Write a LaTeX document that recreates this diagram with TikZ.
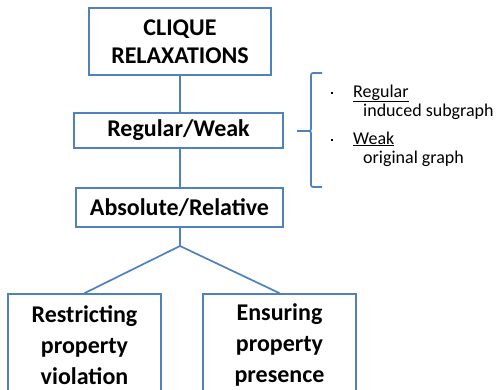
\documentclass[tikz,border=0pt]{standalone}
\usepackage{fontspec}
\setmainfont{Carlito}
\definecolor{lineblue}{RGB}{79,129,189}
\begin{document}
\begin{tikzpicture}[x=1pt,y=-1pt,
  box/.style={draw=lineblue,line width=1.7pt,fill=white,inner sep=0pt,align=center,font=\bfseries\fontsize{24}{28}\selectfont},
  conn/.style={draw=lineblue,line width=1.7pt},
  side/.style={anchor=base west,inner sep=0pt,font=\fontsize{18}{20}\selectfont},
  dot/.style={fill=black,inner sep=0pt,minimum size=2.2pt,rectangle}]
\useasboundingbox (0,0) rectangle (498,389);
\node[box,minimum width=182pt,minimum height=67pt] (top) at (180,41.5) {CLIQUE\\RELAXATIONS};
\node[box,minimum width=209pt,minimum height=35pt] (rw) at (178.5,130.5) {Regular/Weak};
\node[box,minimum width=207pt,minimum height=39pt] (ar) at (179.5,207.5) {Absolute/Relative};
\node[box,minimum width=153pt,minimum height=102pt,font=\bfseries\fontsize{24}{31}\selectfont] (rv) at (84.5,345) {Restricting\\property\\violation};
\node[box,minimum width=153pt,minimum height=102pt,font=\bfseries\fontsize{24}{31}\selectfont] (ep) at (279.5,345) {Ensuring\\property\\presence};
\coordinate (br) at (180,246);
\draw[conn] (top.south) -- (top.south |- rw.north);
\draw[conn] (top.south |- rw.south) -- (top.south |- ar.north);
\draw[conn,line join=round] (ar.south -| br) -- (br) -- (rv.north);
\draw[conn,line join=round] (br) -- (ep.north);
% brace
\coordinate (bt) at (322,73);
\coordinate (bb) at (322,187);
\coordinate (bm) at (297,131);
\draw[conn,rounded corners=2pt] (bt) -- (311,73) -- (311,131) -- (bm);
\draw[conn,rounded corners=2pt] (bm) -- (311,131) -- (311,187) -- (bb);
\node[dot] (d1) at (332,93) {};
\node[dot] (d2) at (332,140) {};
\node[side] (l1) at (353,97) {\underline{Regular}};
\node[side] (l2) at (363,116) {induced subgraph};
\node[side] (l3) at (353,144) {\underline{Weak}};
\node[side] (l4) at (363,163) {original graph};
\end{tikzpicture}
\end{document}
